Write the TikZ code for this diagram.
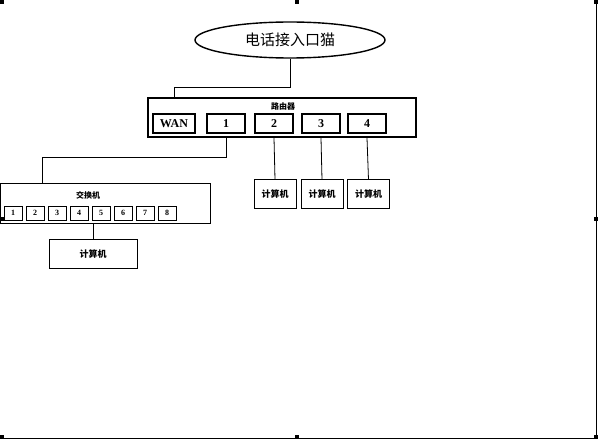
\documentclass[tikz,border=0pt]{standalone}
\usepackage{fontspec}
\setmainfont{Liberation Serif}
\newfontfamily\cjk{Noto Sans CJK SC}
\usetikzlibrary{shapes.geometric}

\begin{document}
\begin{tikzpicture}[x=1pt, y=-1pt, line width=0.8pt,
    every node/.style={inner sep=0pt, align=center},
    port/.style={draw, line width=1.6pt, minimum width=38pt, minimum height=19pt,
                 font=\bfseries\fontsize{12}{12}\selectfont},
    swport/.style={draw, line width=0.6pt, minimum width=18pt, minimum height=14pt,
                   font=\bfseries\fontsize{8}{8}\selectfont},
    pcbox/.style={draw, line width=1pt, minimum width=42pt, minimum height=29pt,
                  font=\cjk\bfseries\fontsize{9}{9}\selectfont},
    handle/.style={fill=black, minimum size=4pt}]
  \useasboundingbox (0,0) rectangle (598,441);

  % modem
  \node[draw, ellipse, line width=1.4pt, minimum width=190pt, minimum height=36pt,
        font=\cjk\fontsize{15}{15}\selectfont] (modem) at (290,40) {电话接入口猫};

  % router
  \node[draw, line width=1.6pt, minimum width=268pt, minimum height=39pt] (router) at (282,117.5) {};
  \node[font=\cjk\bfseries\fontsize{8}{8}\selectfont] (rtitle) at (283,106) {路由器};
  \node[port, minimum width=42pt] (wan) at (174,123.5) {WAN};
  \foreach \i/\x in {1/226,2/274,3/321,4/367}
    \node[port] (p\i) at (\x,123.5) {\i};

  % switch
  \node[draw, line width=0.8pt, minimum width=210pt, minimum height=40pt] (switch) at (105,203) {};
  \node[font=\cjk\bfseries\fontsize{8}{8}\selectfont] (stitle) at (88,195) {交换机};
  \foreach \i in {1,...,8}
    \node[swport] (s\i) at ({-9+22*\i},213) {\i};

  % computers
  \foreach \i/\x in {2/275,3/322,4/368.5}
    \node[pcbox] (pc\i) at (\x,194.5) {计算机};
  \node[pcbox, minimum width=88pt] (pc0) at (93,254.5) {计算机};

  % cables
  \draw (modem.south) -- ++(0,29) -| (wan.north |- router.north);
  \draw (p1.south |- router.south) -- ++(0,20) -| ([xshift=43pt]switch.north west);
  \foreach \i in {2,3,4}
    \draw (p\i.south |- router.south) -- (pc\i.north);
  \draw (switch.south -| pc0.north) -- (pc0.north);

  % frame and handles
  \draw[line width=1pt] (596.5,4) -- (596.5,438.5) -- (0,438.5);
  \foreach \p [count=\k] in {(2,2),(297,2),(596,2),(2,219),(596,219),(2,437),(297,437),(596,437)}
    \node[handle] (h\k) at \p {};
\end{tikzpicture}
\end{document}
